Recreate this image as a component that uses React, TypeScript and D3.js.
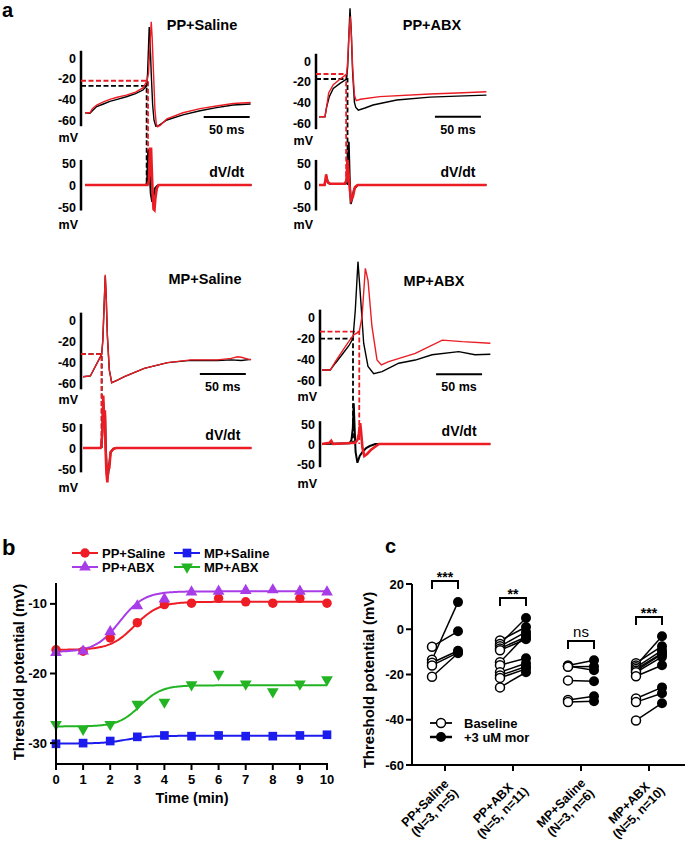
import React from "react";
import * as d3 from "d3";

type Pt = [number, number];

const FONT = "Arial, 'Liberation Sans', Helvetica, sans-serif";
const RED = "#ec1c24";

// ---------- panel a : traces, [time ms, mV] and [time ms, dV/dt] ----------
const ppSalBlackV: Pt[] = [[0,-53],[5.4,-53.5],[8,-51],[12.7,-47],[20,-44.5],[27,-42],[35,-40],[45,-37.5],[55,-34.5],[63,-31],[67,-27],[68,-15],[69,10],[69.8,30],[70.8,15],[72,-15],[73.5,-45],[75,-60],[77,-66],[80,-65.5],[89,-60],[106.5,-55],[125,-51],[143,-48],[161,-45.5],[180,-44.5]];
const ppSalRedV: Pt[] = [[0,-53],[5.4,-53],[8,-49],[12.7,-45.5],[20,-42.5],[27,-40],[35,-38],[45,-36],[55,-33],[63,-29],[67.5,-22],[69,-15],[70.5,10],[72,35],[73,20],[74.5,-15],[76,-50],[77.5,-64],[79,-66.5],[82,-65],[89,-59],[106.5,-53],[125,-49],[143,-46.5],[161,-44],[180,-43]];
const ppSalBlackDv: Pt[] = [[0,0],[66,0],[67.5,5],[68.5,70],[69.5,80],[70.5,20],[71.5,-20],[73,-38],[74.5,-25],[76,-8],[78,-3],[80,0],[181,0]];
const ppSalRedDv: Pt[] = [[0,0],[68,0],[69.5,10],[70.5,85],[71.2,20],[71.8,85],[72.5,40],[73.5,-20],[74.5,-55],[75.5,-57],[76.5,-30],[78,-8],[80,0],[181,0]];
const ppSalThr: Pt[] = [[67,-27],[68.5,-22]]; // black, red

const ppAbxBlackV: Pt[] = [[0,-54],[6.5,-54],[8.4,-44],[11.2,-34.5],[15.5,-26.5],[22.8,-21.6],[30,-17.4],[31.2,-5],[32.5,25],[33.7,51],[35,30],[36.5,-10],[38.5,-40],[40,-45],[42.7,-47.5],[50,-45.5],[58.7,-42.6],[84.5,-37.8],[120.7,-35],[150,-34],[182,-33]];
const ppAbxRedV: Pt[] = [[0,-54],[6.5,-54],[7.2,-50],[8.4,-44],[10.5,-31],[15.5,-23],[22.8,-17.7],[30,-12.6],[31.2,0],[32.5,25],[34,43],[35.2,25],[36.5,-5],[38.5,-33],[40.5,-38.4],[45,-37],[66,-34.5],[120.7,-32],[150,-31],[182,-29.7]];
const ppAbxBlackDv: Pt[] = [[0,0],[6,0],[7,10],[8,18],[10,5],[12,2],[28,2],[30,6],[31.3,35],[32.3,98],[33.3,20],[34.5,-43],[36,-32],[38,-10],[42,0],[182,0]];
const ppAbxRedDv: Pt[] = [[0,0],[6,0],[7,12],[7.8,24],[9,8],[12,3],[28,3],[29.8,10],[31,57],[32,30],[33.5,-10],[35,-34],[37,-25],[39,-5],[42,0],[182,0]];
const ppAbxThr: Pt[] = [[31,-17.4],[29.5,-12.6]];

const mpSalBlackV: Pt[] = [[0,-54],[8,-53.3],[20.3,-32.7],[21.5,-20],[22.8,10],[24.2,42],[25.3,20],[26.5,-15],[28.6,-47.6],[31.2,-59.7],[38,-57],[45,-54],[66.6,-46],[92,-40.6],[117,-38.5],[146,-38.5],[161,-38],[172,-38.6],[182.6,-37.5]];
const mpSalRedV: Pt[] = [[0,-54],[8,-53.3],[20.3,-32.7],[21.5,-20],[22.8,10],[24.2,43],[25.3,20],[26.5,-15],[28.6,-47.6],[31.2,-59.7],[38,-57],[45,-54],[66.6,-46],[92,-40.6],[117,-38],[146,-38],[161,-36.5],[168,-35],[172,-35.5],[182.6,-38]];
const mpSalBlackDv: Pt[] = [[0,0],[19,0],[20,4],[21,35],[22,110],[23,55],[24,80],[24.8,0],[25.8,-50],[27,-70],[28.5,-40],[30,-10],[33,-2],[36,0],[183,0]];
const mpSalRedDv: Pt[] = [[0,0],[19,0],[20,5],[21,40],[22,125],[23,60],[23.8,90],[24.5,0],[25.5,-60],[26.5,-82],[27.5,-40],[28.5,-50],[30,-10],[33,-2],[36,0],[183,0]];
const mpSalThr: Pt[] = [[20.3,-32.5],[20.3,-32.5]];

const mpAbxBlackV: Pt[] = [[0,-50.5],[9,-50.5],[14.5,-44],[21.7,-36],[29,-27.6],[33.7,-20.6],[36.2,6.7],[39.1,52.7],[41.6,22.5],[45.3,-25],[50,-47],[56.2,-54],[65.2,-52],[83.4,-44],[101.4,-41],[119.6,-36],[148.6,-33],[166.3,-36],[183,-35.5]];
const mpAbxRedV: Pt[] = [[0,-50.5],[9,-50.5],[14.5,-42.5],[21.7,-33],[29,-23.5],[34.5,-17],[40.5,-14],[43.5,0],[47.1,46.4],[50,35],[54.3,-9],[59.8,-41],[64.5,-45.7],[72.5,-42.5],[101.4,-34.6],[130.8,-22],[152.5,-23.5],[183,-25]];
const mpAbxBlackDv: Pt[] = [[0,0],[30,2],[32,10],[33.5,40],[34.5,102],[35.3,50],[36.5,-20],[38.5,-47],[41,-30],[44,-20],[48,-10],[52,-5],[58,0],[183,0]];
const mpAbxRedDv: Pt[] = [[0,0],[8,3],[10,8],[12,0],[36,3],[38.5,10],[40,25],[41.5,52],[42.5,30],[44,-10],[46,-30],[49,-25],[53,-15],[57,-8],[62,0],[183,0]];
const mpAbxThr: Pt[] = [[33.7,-20.6],[40.5,-14]];

const vTicks = [0, -20, -40, -60];
const dvTicks = [50, 0, -50];

// ---------- panel b ----------
const timeMin = [0, 1, 2, 3, 4, 5, 6, 7, 8, 9, 10];
const bSeries = ["PP+Saline", "PP+ABX", "MP+Saline", "MP+ABX"];
const ppSalineThr = [-16.6, -16.8, -14.9, -12.7, -10.1, -9.9, -9.2, -9.7, -9.9, -9.2, -9.9];
const ppAbxThrB = [-17.0, -16.8, -14.0, -10.3, -9.3, -8.3, -8.2, -8.1, -8.0, -8.2, -8.3];
const mpSalineThr = [-30.1, -30.0, -29.7, -29.1, -28.9, -29.0, -28.9, -29.0, -29.0, -28.9, -28.8];
const mpAbxThrB = [-27.3, -28.0, -27.3, -24.4, -24.1, -21.6, -20.1, -21.5, -22.6, -21.5, -20.9];
// Boltzmann fit parameters [bottom, top, t50, slope] per series
const fitPPSaline = [-16.6, -9.7, 2.9, 0.45];
const fitPPAbx = [-16.9, -8.2, 2.35, 0.45];
const fitMPSaline = [-30.05, -28.95, 2.6, 0.4];
const fitMPAbx = [-27.6, -21.7, 3.1, 0.4];
const bYTicks = [-10, -20, -30];

// ---------- panel c ----------
const cGroups = ["PP+Saline", "PP+ABX", "MP+Saline", "MP+ABX"];
const cGroupN = ["(N=3, n=5)", "(N=5, n=11)", "(N=3, n=6)", "(N=5, n=10)"];
const basePPSal = [-7.7, -13.5, -14.8, -16.0, -21.0];
const morPPSal = [-0.9, 12.0, -9.5, -10.3, -10.6];
const basePPAbx = [-5.0, -6.5, -7.5, -8.5, -9.3, -14.6, -15.9, -19.0, -20.4, -21.5, -25.7];
const morPPAbx = [1.0, 5.0, -1.2, -3.4, -4.4, -2.5, -12.8, -15.0, -16.5, -17.5, -19.0];
const baseMPSal = [-16.0, -16.3, -16.6, -22.6, -31.3, -32.2];
const morMPSal = [-13.7, -18.1, -16.5, -23.0, -29.6, -31.8];
const baseMPAbx = [-15.0, -16.0, -16.8, -17.6, -18.3, -19.0, -20.8, -30.6, -32.2, -40.3];
const morMPAbx = [-7.5, -3.1, -9.3, -10.6, -11.0, -12.2, -15.9, -25.7, -28.3, -32.7];
const cSig = ["***", "**", "ns", "***"];
const cYTicks = [20, 0, -20, -40, -60];

const cBase = [basePPSal, basePPAbx, baseMPSal, baseMPAbx];
const cMor = [morPPSal, morPPAbx, morMPSal, morMPAbx];

// layout of the four trace panels
const panels = [
  { title: "PP+Saline", axisX: 81, t0x: 85, v0: 58, vSpan: 62, d0: 185, dSpan: 22, titleX: 202, titleY: 30, barT: 129, barV: -57,
    bv: ppSalBlackV, rv: ppSalRedV, bd: ppSalBlackDv, rd: ppSalRedDv, thr: ppSalThr },
  { title: "PP+ABX", axisX: 316, t0x: 319, v0: 61, vSpan: 62, d0: 185, dSpan: 22, titleX: 432, titleY: 30, barT: 126, barV: -54,
    bv: ppAbxBlackV, rv: ppAbxRedV, bd: ppAbxBlackDv, rd: ppAbxRedDv, thr: ppAbxThr },
  { title: "MP+Saline", axisX: 81, t0x: 83, v0: 320, vSpan: 63, d0: 448, dSpan: 21, titleX: 205, titleY: 284, barT: 127, barV: -51.5,
    bv: mpSalBlackV, rv: mpSalRedV, bd: mpSalBlackDv, rd: mpSalRedDv, thr: mpSalThr },
  { title: "MP+ABX", axisX: 320, t0x: 322, v0: 317, vSpan: 63, d0: 444, dSpan: 20, titleX: 434, titleY: 286, barT: 124, barV: -54.5,
    bv: mpAbxBlackV, rv: mpAbxRedV, bd: mpAbxBlackDv, rd: mpAbxRedDv, thr: mpAbxThr },
];

function TracePanel({ p }) {
  const x = d3.scaleLinear().domain([0, 50]).range([p.t0x, p.t0x + 46]);
  const y = d3.scaleLinear().domain([0, -60]).range([p.v0, p.v0 + p.vSpan]);
  const yd = d3.scaleLinear().domain([0, 50]).range([p.d0, p.d0 - p.dSpan]);
  const lineV = d3.line<Pt>().x((d) => x(d[0])).y((d) => y(d[1]));
  const lineD = d3.line<Pt>().x((d) => x(d[0])).y((d) => yd(d[1]));
  const [bt, rt] = p.thr;
  const barX1 = x(p.barT);
  const barX2 = x(p.barT + 50);
  const dash = "5,2.5";
  return (
    <g>
      <text x={p.titleX} y={p.titleY} textAnchor="middle" fontSize={14.5} fontWeight="bold">{p.title}</text>
      {/* axes */}
      <line x1={p.axisX} x2={p.axisX} y1={y(7)} y2={y(-66)} stroke="#000" strokeWidth={2.5} />
      <line x1={p.axisX} x2={p.axisX} y1={yd(57)} y2={yd(-58)} stroke="#000" strokeWidth={2.5} />
      {vTicks.map((t) => (
        <text key={t} x={p.axisX - 5} y={y(t) + 4.5} textAnchor="end" fontSize={12.5} fontWeight="bold">{t}</text>
      ))}
      <text x={p.axisX - 3} y={p.v0 + 84} textAnchor="end" fontSize={12.5} fontWeight="bold">mV</text>
      {dvTicks.map((t) => (
        <text key={t} x={p.axisX - 5} y={yd(t) + 4.5} textAnchor="end" fontSize={12.5} fontWeight="bold">{t}</text>
      ))}
      <text x={p.axisX - 3} y={p.d0 + 44} textAnchor="end" fontSize={12.5} fontWeight="bold">mV</text>
      {/* threshold markers */}
      <path d={`M${p.axisX},${y(bt[1])}H${x(bt[0])}V${yd(0)}`} fill="none" stroke="#000" strokeWidth={1.8} strokeDasharray={dash} />
      <path d={`M${p.axisX},${y(rt[1])}H${x(rt[0])}V${yd(0)}`} fill="none" stroke={RED} strokeWidth={1.8} strokeDasharray={dash} />
      {/* traces */}
      <path d={lineD(p.bd)} fill="none" stroke="#000" strokeWidth={2} />
      <path d={lineD(p.rd)} fill="none" stroke={RED} strokeWidth={2.6} />
      <path d={lineV(p.bv)} fill="none" stroke="#000" strokeWidth={1.4} />
      <path d={lineV(p.rv)} fill="none" stroke={RED} strokeWidth={1.4} />
      {/* scale bar */}
      <line x1={barX1} x2={barX2} y1={y(p.barV)} y2={y(p.barV)} stroke="#000" strokeWidth={2} />
      <text x={(barX1 + barX2) / 2} y={y(p.barV) + 17} textAnchor="middle" fontSize={12.5} fontWeight="bold">50 ms</text>
      <text x={(barX1 + barX2) / 2} y={p.d0 - 8} textAnchor="middle" fontSize={14} fontWeight="bold">dV/dt</text>
    </g>
  );
}

function PanelB() {
  const x = d3.scaleLinear().domain([0, 10]).range([56, 327]);
  const y = d3.scaleLinear().domain([-33, -7]).range([764, 583]);
  const colors = ["#ee1c24", "#a83de8", "#1c1cee", "#22b422"];
  const values = [ppSalineThr, ppAbxThrB, mpSalineThr, mpAbxThrB];
  const fits = [fitPPSaline, fitPPAbx, fitMPSaline, fitMPAbx];
  const symbols = [
    d3.symbol().type(d3.symbolCircle).size(70)(),
    d3.symbol().type(d3.symbolTriangle).size(60)(),
    d3.symbol().type(d3.symbolSquare).size(75)(),
    d3.symbol().type(d3.symbolTriangle).size(60)(),
  ];
  const rot = [0, 0, 0, 180];
  const fitT = d3.range(0, 10.001, 0.05);
  const legendPos = [
    { lx: 72, ly: 553 }, { lx: 72, ly: 567 }, { lx: 174, ly: 553 }, { lx: 174, ly: 567 },
  ];
  const order = [0, 1, 2, 3];
  return (
    <g>
      <text x={2} y={555} fontSize={22} fontWeight="bold">b</text>
      {order.map((i) => {
        const [bot, top, t50, s] = fits[i];
        const pts: Pt[] = fitT.map((t) => [t, bot + (top - bot) / (1 + Math.exp((t50 - t) / s))]);
        const l = d3.line<Pt>().x((d) => x(d[0])).y((d) => y(d[1]));
        return <path key={i} d={l(pts)} fill="none" stroke={colors[i]} strokeWidth={2} />;
      })}
      {order.map((i) =>
        values[i].map((v, j) => (
          <path key={`${i}-${j}`} d={symbols[i]} fill={colors[i]} transform={`translate(${x(timeMin[j])},${y(v)}) rotate(${rot[i]})`} />
        ))
      )}
      {/* axes */}
      <line x1={56} x2={56} y1={583} y2={764} stroke="#000" strokeWidth={2} />
      <line x1={56} x2={328} y1={764} y2={764} stroke="#000" strokeWidth={2} />
      {timeMin.map((t) => (
        <g key={t}>
          <line x1={x(t)} x2={x(t)} y1={764} y2={770} stroke="#000" strokeWidth={2} />
          <text x={x(t)} y={784} textAnchor="middle" fontSize={13} fontWeight="bold">{t}</text>
        </g>
      ))}
      {bYTicks.map((t) => (
        <g key={t}>
          <line x1={50} x2={56} y1={y(t)} y2={y(t)} stroke="#000" strokeWidth={2} />
          <text x={47} y={y(t) + 4.5} textAnchor="end" fontSize={13} fontWeight="bold">{t}</text>
        </g>
      ))}
      <text x={192} y={803} textAnchor="middle" fontSize={14.5} fontWeight="bold">Time (min)</text>
      <text transform="translate(24,672) rotate(-90)" textAnchor="middle" fontSize={15} fontWeight="bold">Threshold potential (mV)</text>
      {/* legend */}
      {order.map((i) => {
        const { lx, ly } = legendPos[i];
        return (
          <g key={i}>
            <line x1={lx} x2={lx + 26} y1={ly} y2={ly} stroke={colors[i]} strokeWidth={2} />
            <path d={symbols[i]} fill={colors[i]} transform={`translate(${lx + 13},${ly}) rotate(${rot[i]})`} />
            <text x={lx + 30} y={ly + 5} fontSize={13} fontWeight="bold">{bSeries[i]}</text>
          </g>
        );
      })}
    </g>
  );
}

function PanelC() {
  const y = d3.scaleLinear().domain([-60, 20]).range([765, 584]);
  const xc = d3.scalePoint<string>().domain(cGroups).range([445, 649]);
  const off = 13;
  const bracketV = [21.3, 13.8, -5.2, 5.4];
  return (
    <g>
      <text x={385} y={553} fontSize={20} fontWeight="bold">c</text>
      {/* axes */}
      <line x1={412} x2={412} y1={y(20)} y2={y(-60)} stroke="#000" strokeWidth={2} />
      <line x1={412} x2={685} y1={y(-60)} y2={y(-60)} stroke="#000" strokeWidth={2} />
      {cYTicks.map((t) => (
        <g key={t}>
          <line x1={406} x2={412} y1={y(t)} y2={y(t)} stroke="#000" strokeWidth={2} />
          <text x={404} y={y(t) + 4.5} textAnchor="end" fontSize={13} fontWeight="bold">{t}</text>
        </g>
      ))}
      <text transform="translate(374,680) rotate(-90)" textAnchor="middle" fontSize={15} fontWeight="bold">Threshold potential (mV)</text>
      {cGroups.map((g, gi) => {
        const cx = xc(g);
        return (
          <g key={g}>
            <line x1={cx} x2={cx} y1={y(-60)} y2={y(-60) + 6} stroke="#000" strokeWidth={2} />
            <text transform={`translate(${cx - 17},${806}) rotate(-45)`} textAnchor="middle" fontSize={12.5} fontWeight="bold">
              <tspan x={0} dy={0}>{g}</tspan>
              <tspan x={0} dy={13.5}>{cGroupN[gi]}</tspan>
            </text>
            {cBase[gi].map((b, k) => (
              <line key={k} x1={cx - off} x2={cx + off} y1={y(b)} y2={y(cMor[gi][k])} stroke="#000" strokeWidth={1.5} />
            ))}
            {cBase[gi].map((b, k) => (
              <circle key={`o${k}`} cx={cx - off} cy={y(b)} r={4.5} fill="#fff" stroke="#000" strokeWidth={1.5} />
            ))}
            {cMor[gi].map((m, k) => (
              <circle key={`f${k}`} cx={cx + off} cy={y(m)} r={5} fill="#000" />
            ))}
            <path d={`M${cx - off},${y(bracketV[gi]) + 8}V${y(bracketV[gi])}H${cx + off}V${y(bracketV[gi]) + 8}`} fill="none" stroke="#000" strokeWidth={2} />
            {cSig[gi] === "ns" ? (
              <text x={cx} y={y(bracketV[gi]) - 4} textAnchor="middle" fontSize={15}>ns</text>
            ) : (
              <text x={cx} y={y(bracketV[gi]) + 1} textAnchor="middle" fontSize={14} fontWeight="bold">{cSig[gi]}</text>
            )}
          </g>
        );
      })}
      {/* legend */}
      <line x1={430} x2={452} y1={723} y2={723} stroke="#000" strokeWidth={1.8} />
      <circle cx={441} cy={723} r={4.5} fill="#fff" stroke="#000" strokeWidth={1.5} />
      <text x={464} y={728} fontSize={13} fontWeight="bold">Baseline</text>
      <line x1={430} x2={452} y1={737} y2={737} stroke="#000" strokeWidth={2.5} />
      <circle cx={441} cy={737} r={5} fill="#000" />
      <text x={464} y={742} fontSize={13} fontWeight="bold">+3 uM mor</text>
    </g>
  );
}

export default function App() {
  return (
    <div style={{ position: "absolute", left: 0, top: 0 }}>
      <svg width={685} height={844} style={{ display: "block", background: "#fff" }} fontFamily={FONT}>
        <text x={2} y={17} fontSize={20} fontWeight="bold">a</text>
        {panels.map((p) => (
          <TracePanel key={p.title} p={p} />
        ))}
        <PanelB />
        <PanelC />
      </svg>
    </div>
  );
}
